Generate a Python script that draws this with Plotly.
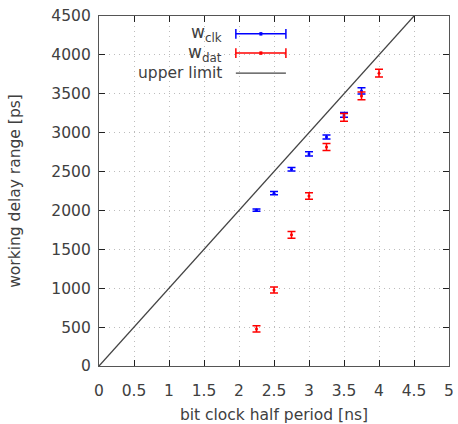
import plotly.graph_objects as go

# Data
x_clk = [2.25, 2.5, 2.75, 3.0, 3.25, 3.5, 3.75]
w_clk = [2005, 2222, 2530, 2727, 2945, 3228, 3537]
e_clk = [15, 20, 22, 28, 25, 30, 40]

x_dat = [2.25, 2.5, 2.75, 3.0, 3.25, 3.5, 3.75, 4.0]
w_dat = [476, 978, 1686, 2187, 2817, 3198, 3472, 3765]
e_dat = [40, 38, 42, 42, 45, 50, 50, 50]

limit_x = [0, 5]
limit_y = [0, 5000]

x_ticks = [0, 0.5, 1, 1.5, 2, 2.5, 3, 3.5, 4, 4.5, 5]
x_labels = ["0", "0.5", "1", "1.5", "2", "2.5", "3", "3.5", "4", "4.5", "5"]
y_ticks = [0, 500, 1000, 1500, 2000, 2500, 3000, 3500, 4000, 4500]

legend_names = ["w<sub>clk</sub>", "w<sub>dat</sub>", "upper limit"]
legend_colors = ["#0000ff", "#ff0000", "#444444"]

FS = 15.5
font = dict(family="DejaVu Sans", size=FS, color="#404040")

fig = go.Figure()
fig.add_trace(go.Scatter(x=limit_x, y=limit_y, mode="lines",
                         line=dict(color="#444444", width=1.3), showlegend=False, hoverinfo="skip"))
fig.add_trace(go.Scatter(x=x_clk, y=w_clk, mode="markers",
                         marker=dict(color="#0000ff", size=3),
                         error_y=dict(type="data", array=e_clk, color="#0000ff", thickness=1.5, width=4),
                         showlegend=False))
fig.add_trace(go.Scatter(x=x_dat, y=w_dat, mode="markers",
                         marker=dict(color="#ff0000", size=3),
                         error_y=dict(type="data", array=e_dat, color="#ff0000", thickness=1.5, width=4),
                         showlegend=False))

# Manual gnuplot-style legend (paper coordinates)
rows_y = [0.949, 0.894, 0.837]
x0, x1 = 0.391, 0.534
cap = 0.014
shapes = []
annotations = []
for i, (name, col, ry) in enumerate(zip(legend_names, legend_colors, rows_y)):
    annotations.append(dict(x=0.357, y=ry, xref="paper", yref="paper", text=name,
                            showarrow=False, xanchor="right", yanchor="middle",
                            font=dict(family="DejaVu Sans", size=FS + (1.5 if i < 2 else 0),
                                      color="#404040")))
    w = 1.5 if i < 2 else 1.3
    shapes.append(dict(type="line", xref="paper", yref="paper", x0=x0, x1=x1, y0=ry, y1=ry,
                       line=dict(color=col, width=w)))
    if i < 2:
        for xx in (x0, x1):
            shapes.append(dict(type="line", xref="paper", yref="paper", x0=xx, x1=xx,
                               y0=ry - cap, y1=ry + cap, line=dict(color=col, width=1.5)))
        xm = (x0 + x1) / 2
        shapes.append(dict(type="line", xref="paper", yref="paper", x0=xm, x1=xm,
                           y0=ry - 0.005, y1=ry + 0.005, line=dict(color=col, width=3)))

axis_common = dict(showline=True, mirror="ticks", linecolor="#555555", linewidth=1.2,
                   ticks="inside", ticklen=6, tickcolor="#222222", tickwidth=1.2,
                   showgrid=True, gridcolor="#bdbdbd", griddash="1px,4px", gridwidth=1,
                   zeroline=False, tickfont=font, automargin=False)

fig.update_layout(
    width=458, height=424,
    margin=dict(l=99, r=9, t=16, b=58),
    paper_bgcolor="white", plot_bgcolor="white",
    font=font,
    xaxis=dict(range=[0, 5], tickvals=x_ticks, ticktext=x_labels, ticklabelstandoff=10,
               title=dict(text="bit clock half period [ns]", font=font, standoff=15), **axis_common),
    yaxis=dict(range=[0, 4500], tickvals=y_ticks, ticklabelstandoff=4,
               title=dict(text="working delay range [ps]", font=font, standoff=26), **axis_common),
    shapes=shapes, annotations=annotations,
)

# remove the page's default body margin so the figure fills the window exactly
fig.write_html("out.html", config={"displayModeBar": False},
               post_script="document.body.style.margin='0';document.body.style.overflow='hidden';")
